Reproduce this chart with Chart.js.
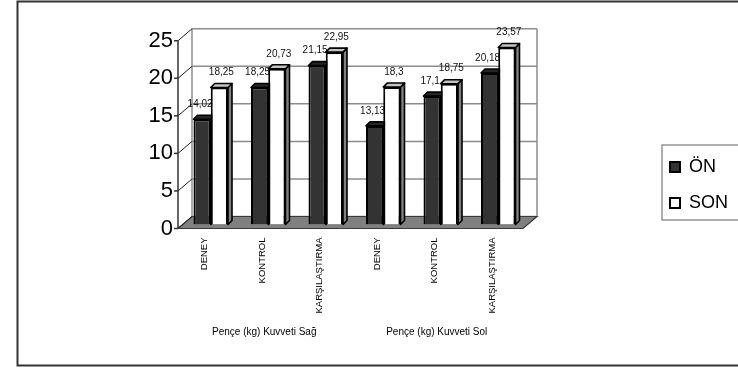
<!DOCTYPE html>
<html>
<head>
<meta charset="utf-8">
<script src="https://cdn.jsdelivr.net/npm/chart.js@4/dist/chart.umd.min.js"></script>
<style>
  html, body { margin: 0; padding: 0; background: #fff; }
  canvas { display: block; }
</style>
</head>
<body>
<canvas id="chart" width="738" height="368"></canvas>
<script>
// Grip strength (Pençe kuvveti) before / after, by group
const categories = ['DENEY', 'KONTROL', 'KARŞILAŞTIRMA', 'DENEY', 'KONTROL', 'KARŞILAŞTIRMA'];
const groupLabels = ['Pençe (kg) Kuvveti Sağ', 'Pençe (kg) Kuvveti Sol'];
const onValues = [14.02, 18.25, 21.15, 13.13, 17.1, 20.18];
const sonValues = [18.25, 20.73, 22.95, 18.3, 18.75, 23.57];
const yTicks = [0, 5, 10, 15, 20, 25];

const FONT = "'Liberation Sans', Arial, Helvetica, sans-serif";

// pseudo-3D depth: front plane and back wall relative to the bar plane
const FRONT = { dx: -4, dy: 4 };
const BACK = { dx: 10, dy: -8 };
const BAR_DEPTH = 4;

const fmt = v => String(v).replace('.', ',');

function poly(ctx, pts, fill, stroke, lw) {
  ctx.beginPath();
  ctx.moveTo(pts[0][0], pts[0][1]);
  for (let i = 1; i < pts.length; i++) ctx.lineTo(pts[i][0], pts[i][1]);
  ctx.closePath();
  if (fill) { ctx.fillStyle = fill; ctx.fill(); }
  if (stroke) { ctx.strokeStyle = stroke; ctx.lineWidth = lw; ctx.stroke(); }
}
function line(ctx, x1, y1, x2, y2) {
  ctx.beginPath(); ctx.moveTo(x1, y1); ctx.lineTo(x2, y2); ctx.stroke();
}

// top / side faces and the value label of every bar of one dataset
function drawDepthFaces(chart, index) {
  const { ctx } = chart;
  const ds = chart.data.datasets[index];
  const meta = chart.getDatasetMeta(index);
  const d = BAR_DEPTH;
  ctx.save();
  ctx.lineJoin = 'round';
  meta.data.forEach((bar, i) => {
    const { x, y, base, width } = bar.getProps(['x', 'y', 'base', 'width'], true);
    const l = x - width / 2, r = x + width / 2;
    poly(ctx, [[r, y], [r + d, y - d], [r + d, base - d], [r, base]], ds.sideColor, '#000', 1.6);
    poly(ctx, [[l, y], [l + d, y - d], [r + d, y - d], [r, y]], ds.topColor, '#000', 1.6);
    ctx.fillStyle = '#111';
    ctx.font = '10px ' + FONT;
    ctx.textAlign = 'center';
    ctx.textBaseline = 'middle';
    ctx.fillText(fmt(ds.data[i]), x + ds.labelShift, y - 15);
  });
  ctx.restore();
}

const depthPlugin = {
  id: 'depth',
  beforeDraw(chart) {
    const { ctx } = chart;
    ctx.save();
    ctx.fillStyle = '#fff';
    ctx.fillRect(0, 0, chart.width, chart.height);
    ctx.restore();
  },
  beforeDatasetsDraw(chart) {
    const { ctx, chartArea: a, scales: { y } } = chart;
    const y0 = y.getPixelForValue(0);
    const yTop = y.getPixelForValue(yTicks[yTicks.length - 1]);
    ctx.save();
    // back wall gridlines and frame
    ctx.strokeStyle = '#8c8c8c';
    ctx.lineWidth = 1.5;
    yTicks.forEach(v => {
      const py = y.getPixelForValue(v) + BACK.dy;
      line(ctx, a.left + BACK.dx, py, a.right + BACK.dx, py);
    });
    line(ctx, a.left + BACK.dx, yTop + BACK.dy, a.left + BACK.dx, y0 + BACK.dy);
    line(ctx, a.right + BACK.dx, yTop + BACK.dy, a.right + BACK.dx, y0 + BACK.dy);
    // floor
    poly(ctx, [
      [a.left + FRONT.dx, y0 + FRONT.dy],
      [a.right + FRONT.dx, y0 + FRONT.dy],
      [a.right + BACK.dx, y0 + BACK.dy],
      [a.left + BACK.dx, y0 + BACK.dy]
    ], '#808080', '#3a3a3a', 1.2);
    // side wall lines from the front axis to the back wall
    ctx.strokeStyle = '#222';
    ctx.lineWidth = 1;
    yTicks.forEach(v => {
      const py = y.getPixelForValue(v);
      line(ctx, a.left + FRONT.dx, py + FRONT.dy, a.left + BACK.dx, py + BACK.dy);
    });
    // front value axis with tick marks
    ctx.strokeStyle = '#333';
    ctx.lineWidth = 1.5;
    line(ctx, a.left + FRONT.dx, y0 + FRONT.dy, a.left + FRONT.dx, yTop + FRONT.dy);
    yTicks.forEach(v => {
      const py = y.getPixelForValue(v) + FRONT.dy;
      line(ctx, a.left + FRONT.dx - 4, py, a.left + FRONT.dx, py);
    });
    ctx.restore();
    // the first series sits partly behind its neighbour: draw its faces first
    drawDepthFaces(chart, 0);
  },
  afterDatasetDraw(chart, args) {
    if (args.index !== 0) drawDepthFaces(chart, args.index);
  },
  afterDraw(chart) {
    const { ctx, legend } = chart;
    ctx.save();
    // legend frame
    const hb = legend.legendHitBoxes;
    if (hb && hb.length) {
      const first = hb[0], last = hb[hb.length - 1];
      ctx.strokeStyle = '#7a7a7a';
      ctx.lineWidth = 1.2;
      ctx.strokeRect(first.left - 8, first.top - 13, chart.width, last.top + last.height + 8 - (first.top - 13));
    }
    // outer frame
    ctx.strokeStyle = '#333';
    ctx.lineWidth = 2;
    ctx.strokeRect(17.5, 1.5, chart.width, chart.height - 4);
    ctx.restore();
  }
};

const hiddenAxis = {
  display: true,
  grid: { display: false, drawTicks: false }, border: { display: false },
  ticks: { display: false }
};

new Chart(document.getElementById('chart'), {
  type: 'bar',
  data: {
    labels: categories,
    datasets: [
      {
        label: 'ÖN', data: onValues,
        backgroundColor: '#333333', borderColor: '#000', borderWidth: 2,
        topColor: '#262626', sideColor: '#262626', labelShift: -2,
        categoryPercentage: 0.6, barPercentage: 1
      },
      {
        label: 'SON', data: sonValues,
        backgroundColor: '#ffffff', borderColor: '#000', borderWidth: 2,
        topColor: '#c4c4c4', sideColor: '#808080', labelShift: 2,
        categoryPercentage: 0.6, barPercentage: 1
      }
    ]
  },
  options: {
    responsive: false,
    animation: false,
    events: [],
    layout: { padding: { left: 0, right: 0, top: 2, bottom: 0 } },
    scales: {
      x: {
        type: 'category', position: 'bottom', weight: 0,
        grid: { display: false, drawTicks: false }, border: { display: false },
        ticks: {
          autoSkip: false, minRotation: 90, maxRotation: 90, padding: 13, labelOffset: -6,
          color: '#000', font: { family: FONT, size: 9.5 }
        },
        afterFit(s) { s.height = 90; }
      },
      x2: {
        type: 'category', labels: groupLabels, position: 'bottom', weight: 1, offset: true,
        grid: { display: false, drawTicks: false }, border: { display: false },
        ticks: { padding: 12, labelOffset: -4, color: '#000', font: { family: FONT, size: 10 } },
        afterFit(s) { s.height = 53.5; }
      },
      xTop: Object.assign({ type: 'category', axis: 'x', position: 'top', afterFit(s) { s.height = 34.75; } }, hiddenAxis),
      y: {
        type: 'linear', position: 'left', min: 0, max: 25,
        grid: { display: false, drawTicks: false }, border: { display: false },
        ticks: { stepSize: 5, padding: 9, labelOffset: 4, color: '#000', font: { family: FONT, size: 22 } },
        afterFit(s) { s.width = 182; }
      },
      yGap: Object.assign({ type: 'linear', axis: 'y', position: 'right', afterFit(s) { s.width = 125; } }, hiddenAxis)
    },
    plugins: {
      legend: {
        position: 'right',
        labels: {
          boxWidth: 10, boxHeight: 10, padding: 18, color: '#000',
          font: { family: FONT, size: 18 }
        }
      },
      tooltip: { enabled: false }
    }
  },
  plugins: [depthPlugin]
});
</script>
</body>
</html>
